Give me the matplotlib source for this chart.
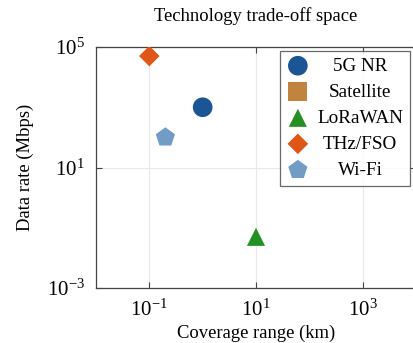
import matplotlib
matplotlib.use('Agg')
import matplotlib.pyplot as plt
from matplotlib.ticker import NullLocator

plt.rcParams['font.family'] = ['Liberation Serif', 'DejaVu Serif']
plt.rcParams['mathtext.fontset'] = 'stix'

# data
techs = ['5G NR', 'Satellite', 'LoRaWAN', 'THz/FSO', 'Wi-Fi']
coverage_km = [1.0, 36000.0, 10.0, 0.1, 0.2]
rate_mbps = [1000.0, 100.0, 0.05, 50000.0, 100.0]
colors = ['#1b5596', '#c0843f', '#249024', '#e05616', '#729bc6']
markers = ['o', 's', '^', 'D', 'p']
sizes = [200, 190, 170, 110, 210]

x_ticks = [1e-1, 1e1, 1e3]
y_ticks = [1e-3, 1e1, 1e5]


def make_plot():
    fig = plt.figure(figsize=(4.13, 3.43), dpi=100)
    # axes runs a little past the right edge, like the original
    ax = fig.add_axes([96 / 413, 55 / 343, 320 / 413, 241 / 343])
    ax.set_xscale('log')
    ax.set_yscale('log')
    ax.set_xlim(1e-2, 1e4)
    ax.set_ylim(1e-3, 1e5)

    for name, x, y, c, m, s in zip(techs, coverage_km, rate_mbps, colors, markers, sizes):
        ax.scatter([x], [y], s=s, c=c, marker=m, label=name, edgecolors='none', zorder=3)

    ax.set_xticks(x_ticks)
    ax.set_yticks(y_ticks)
    ax.xaxis.set_minor_locator(NullLocator())
    ax.yaxis.set_minor_locator(NullLocator())
    ax.tick_params(direction='in', length=4, width=0.8, color='#444444',
                   top=True, right=True, labelsize=15, pad=8)
    ax.grid(True, color='#e8e8e8', linewidth=0.8, zorder=0)
    ax.set_axisbelow(True)
    for sp in ax.spines.values():
        sp.set_color('#444444')
        sp.set_linewidth(0.9)

    ax.set_xlabel('Coverage range (km)', fontsize=13.4, labelpad=3)
    ax.set_ylabel('Data rate (Mbps)', fontsize=13.4, labelpad=9)
    ax.set_title('Technology trade-off space', fontsize=13.4, pad=19)

    leg = ax.legend(loc='upper right', bbox_to_anchor=(0.98, 0.985), fontsize=13.8,
                    frameon=True, fancybox=False, edgecolor='#444444',
                    borderpad=0.35, labelspacing=0.45, handletextpad=0.4,
                    handlelength=1.2, scatterpoints=1, borderaxespad=0)
    leg.get_frame().set_linewidth(0.9)

    # center legend labels like pgfplots does
    fig.canvas.draw()
    texts = leg.get_texts()
    widths = [t.get_window_extent().width for t in texts]
    maxw = max(widths)
    for t, w in zip(texts, widths):
        t.set_position(((maxw - w) / 2, 0))

    fig.savefig('out.png', dpi=100)


if __name__ == '__main__':
    make_plot()
